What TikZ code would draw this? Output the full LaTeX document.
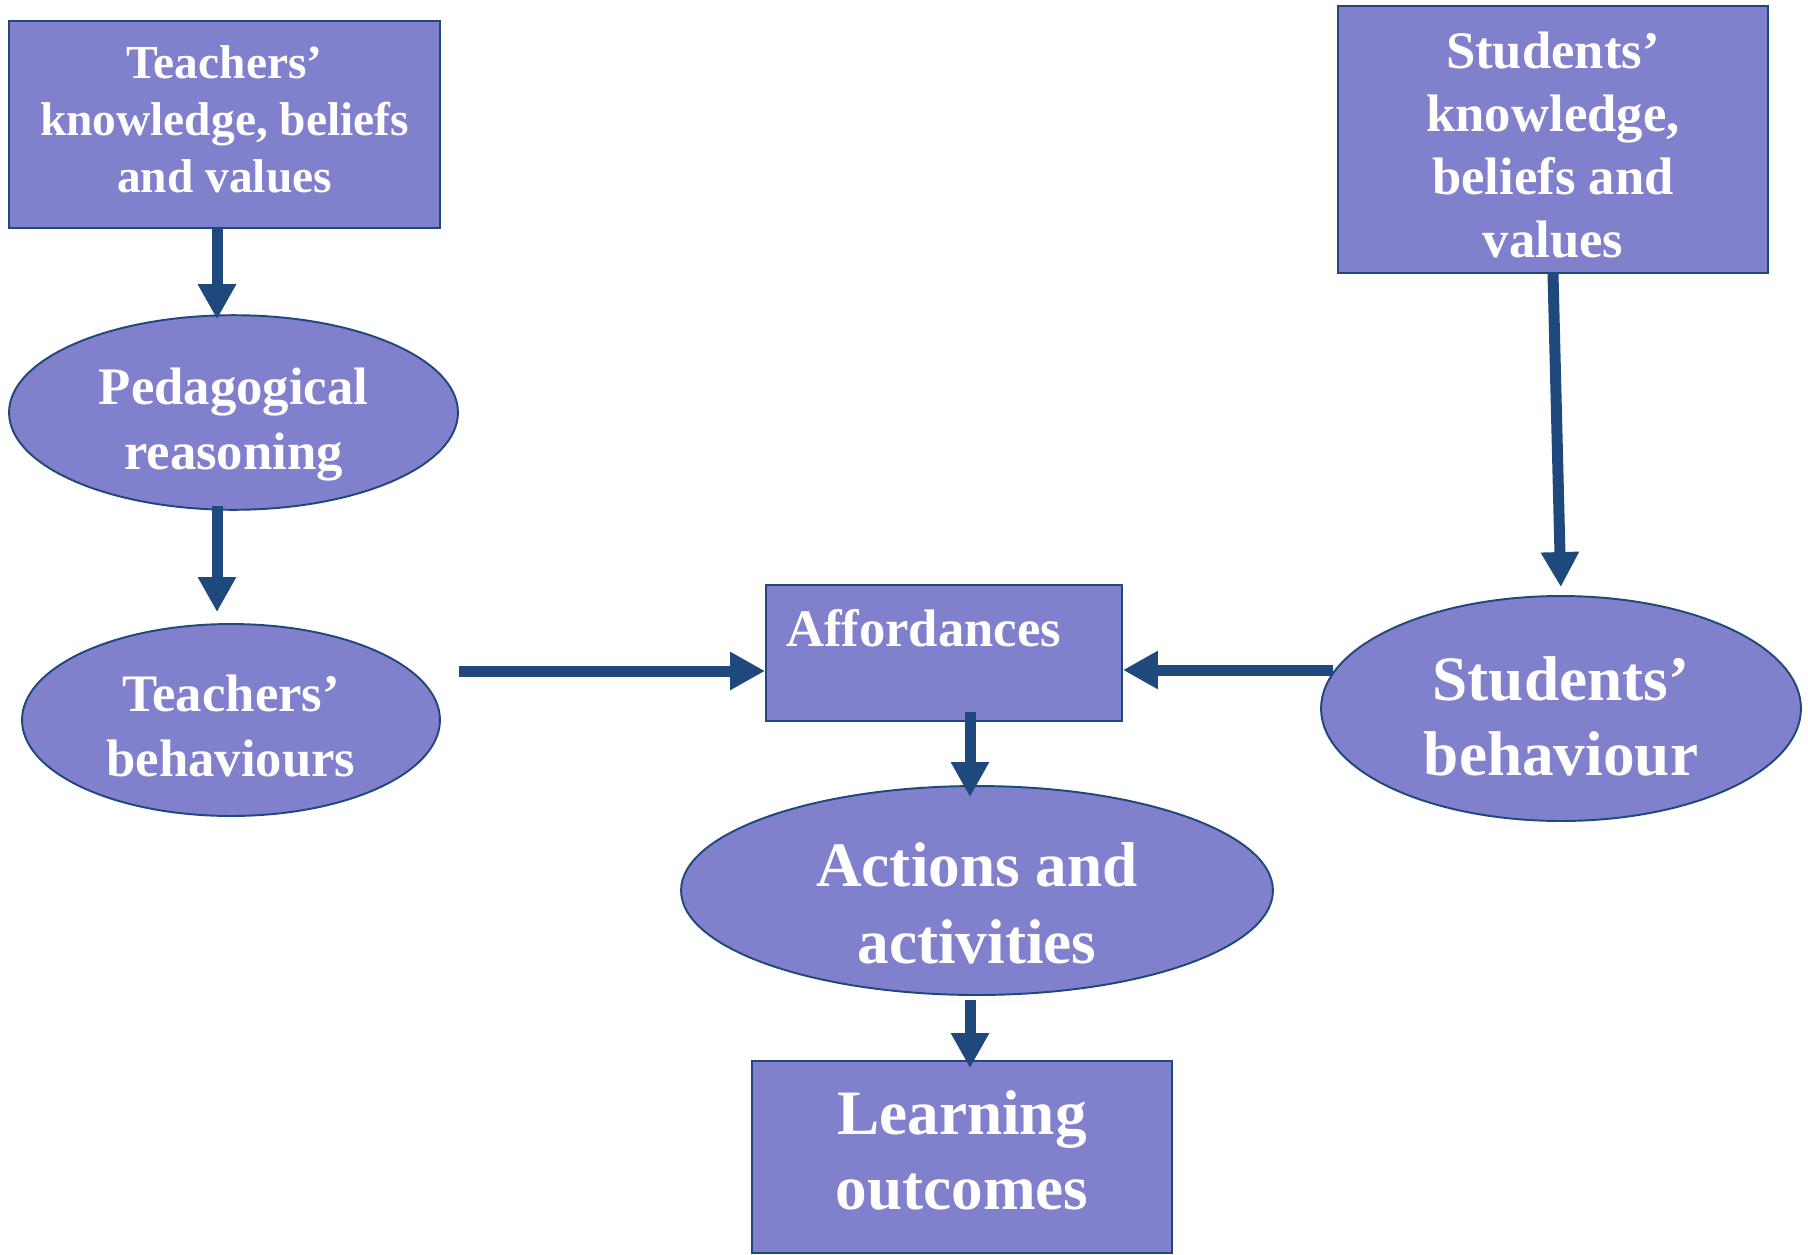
\documentclass[tikz,border=0pt]{standalone}
\usepackage{fontspec}
\setmainfont{Liberation Serif}
\usetikzlibrary{shapes.geometric,arrows.meta}

\definecolor{boxfill}{RGB}{128,128,204}
\definecolor{darkblue}{RGB}{31,73,125}

\tikzstyle{rectbox} = [rectangle, draw=darkblue, line width=1.1pt, fill=boxfill, text=white, font=\bfseries, align=center, inner sep=0pt]
\tikzstyle{ellbox} = [ellipse, draw=darkblue, line width=1.1pt, fill=boxfill, text=white, font=\bfseries, align=center, inner sep=0pt]
\tikzstyle{flow} = [draw=darkblue, line width=0.22cm, -{Triangle[width=0.72cm,length=0.7cm]}]

\begin{document}
\begin{tikzpicture}[x=0.02cm, y=-0.02cm]
\useasboundingbox (0,0) rectangle (1808,1254);

% teachers side
\node[rectbox, minimum width=8.62cm, minimum height=4.14cm, font=\bfseries\fontsize{27}{32.4}\selectfont] (tkb) at (224.5,124.5) {Teachers’\\knowledge, beliefs\\and values\rule[-6pt]{0pt}{0pt}};
\node[ellbox, minimum width=8.98cm, minimum height=3.82cm, font=\bfseries\fontsize{30}{37}\selectfont] (ped) at (233.5,412.5) {\rule{0pt}{34.7pt}Pedagogical\\reasoning};
\node[ellbox, minimum width=8.36cm, minimum height=3.84cm, font=\bfseries\fontsize{30}{37}\selectfont] (tbeh) at (231,720) {\rule{0pt}{28.1pt}Teachers’\\behaviours};

% students side
\node[rectbox, minimum width=8.6cm, minimum height=5.34cm, font=\bfseries\fontsize{30}{36}\selectfont] (skb) at (1553,139.5) {\rule{0pt}{27pt}Students’\\knowledge,\\beliefs and\\values};
\node[ellbox, minimum width=9.6cm, minimum height=4.5cm, font=\bfseries\fontsize{36}{43}\selectfont] (sbeh) at (1561,708.5) {\rule{0pt}{34.2pt}Students’\\behaviour};

% middle
\node[rectbox, align=left, text width=6.32cm, inner xsep=0.4cm, text height=1.22cm, text depth=1.5cm, font=\bfseries\fontsize{30}{36}\selectfont] (aff) at (944,653) {Affordances};
\node[ellbox, minimum width=11.84cm, minimum height=4.18cm, font=\bfseries\fontsize{36}{44}\selectfont] (act) at (977,890.5) {\rule{0pt}{39.4pt}Actions and\\activities};
\node[rectbox, minimum width=8.4cm, minimum height=3.84cm, font=\bfseries\fontsize{36}{43}\selectfont] (lo) at (962,1157) {Learning\\outcomes\rule[-7.8pt]{0pt}{0pt}};

% arrows
\draw[flow, shorten >=-0.1cm] ([xshift=-0.15cm]tkb.south) -- ([xshift=-0.15cm]tkb.south |- ped.north);
\draw[flow, shorten <=-0.1cm, shorten >=0.22cm] ([xshift=-0.33cm]ped.south) -- ([xshift=-0.33cm]ped.south |- tbeh.north);
\draw[flow, shorten <=0.36cm] ([yshift=-0.36cm]aff.west -| tbeh.east) -- ([yshift=-0.36cm]aff.west);
\draw[flow, shorten <=-0.26cm] ([yshift=-0.34cm]aff.east -| sbeh.west) -- ([yshift=-0.34cm]aff.east);
\draw[flow, shorten >=0.16cm] (skb.south) -- (sbeh.north);
\draw[flow, shorten <=-0.2cm, shorten >=-0.24cm] ([xshift=0.52cm]aff.south) -- ([xshift=0.52cm]aff.south |- act.north);
\draw[flow, shorten <=0.08cm, shorten >=-0.16cm] ([xshift=-0.14cm]act.south) -- ([xshift=-0.14cm]act.south |- lo.north);
\end{tikzpicture}
\end{document}
